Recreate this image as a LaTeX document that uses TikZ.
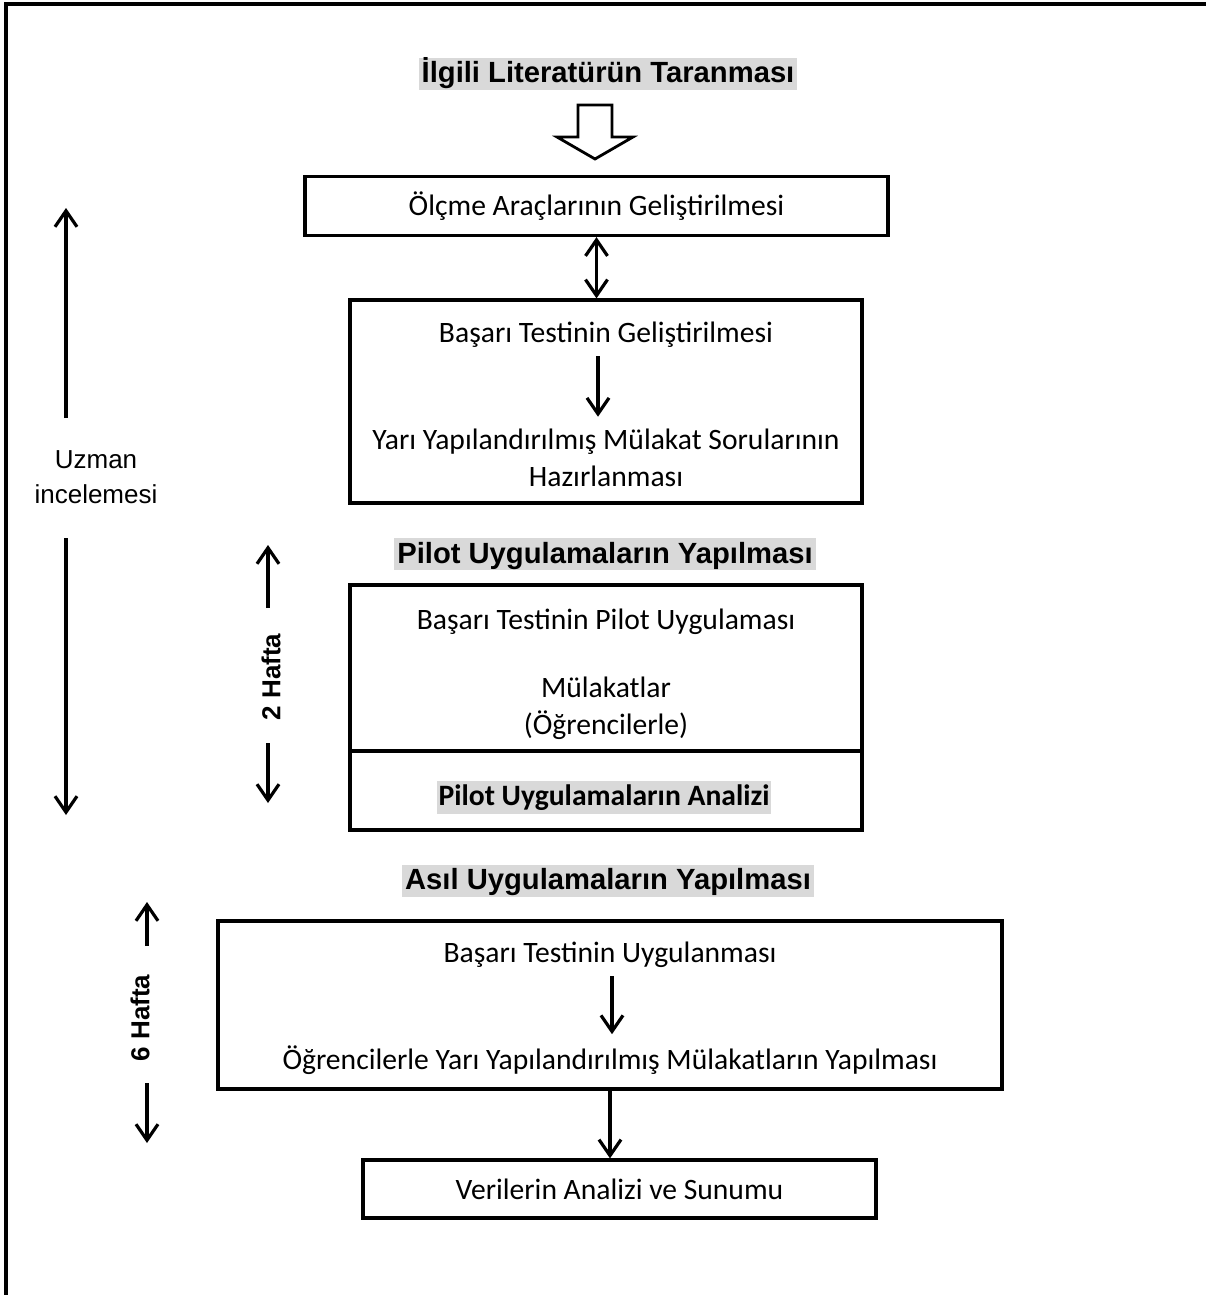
\documentclass[tikz,border=0pt]{standalone}
\usepackage{fontspec}
\setmainfont{Carlito}
\newfontfamily\arialf{Liberation Sans}
\usepackage{xcolor}
\usepackage{tikz}
\usetikzlibrary{arrows.meta, positioning, calc}
\definecolor{vurgu}{RGB}{217,217,217}
\tikzset{
  kutu/.style={rectangle, draw, line width=1.6pt, minimum width=256pt, align=center, font=\fontsize{14.8}{18.5}\selectfont, inner sep=0pt},
  yazi/.style={align=center, inner sep=0pt, font=\fontsize{14.8}{18.5}\selectfont},
  baslik/.style={fill=vurgu, inner xsep=1.5pt, inner ysep=0pt, text height=12.5pt, text depth=3.5pt, font=\arialf\bfseries\fontsize{14.6}{17}\selectfont},
  yan/.style={align=center, inner sep=0pt, font=\arialf\fontsize{13}{17.5}\selectfont},
  hafta/.style={inner sep=0pt, rotate=90, font=\arialf\bfseries\fontsize{13}{16}\selectfont},
  ok/.style={-{Straight Barb[length=8pt,width=11pt]}, line width=1.6pt},
  cift/.style={{Straight Barb[length=8pt,width=11pt]}-{Straight Barb[length=8pt,width=11pt]}, line width=1.6pt},
}
\begin{document}
\begin{tikzpicture}[x=0.5pt, y=-0.5pt]
  \useasboundingbox (0,0) rectangle (1206,1295);
  % Çerçeve (sadece üst ve sol kenar)
  \draw[line width=1.6pt] (6,1295) -- (6,4) -- (1206,4);
  % Literatür taraması
  \node[baslik] (lit) at (608,74) {İlgili Literatürün Taranması};
  \draw[line width=1.4pt, line join=miter] (578,105) -- (612,105) -- (612,137) -- (633,137) -- (595,159) -- (557,137) -- (578,137) -- cycle;
  % Ölçme araçları
  \node[kutu, minimum width=291.5pt, minimum height=29.5pt] (b1) at (596.5,206) {Ölçme Araçlarının Geliştirilmesi};
  \node[kutu, minimum height=101.5pt] (b2) at (606,401.5) {};
  \draw[cift] (b1.south) -- (b1.south |- b2.north);
  \node[yazi] (b2a) at (606,335) {Başarı Testinin Geliştirilmesi};
  \node[yazi] (b2b) at (606,458) {Yarı Yapılandırılmış Mülakat Sorularının\\Hazırlanması};
  \draw[ok, shorten <=4pt, shorten >=6pt] ([xshift=-4pt]b2a.south) -- ([xshift=-4pt]b2b.north);
  % Pilot uygulamalar
  \node[baslik] (pilot) at (605,554) {Pilot Uygulamaların Yapılması};
  \node[kutu, minimum height=83pt] (b3) at (606,668) {};
  \node[kutu, minimum height=39.5pt] (b3alt) at (606,790.5) {};
  \node[yazi] (b3a) at (606,622) {Başarı Testinin Pilot Uygulaması};
  \node[yazi] (b3b) at (606,708) {Mülakatlar\\(Öğrencilerle)};
  \node[fill=vurgu, inner xsep=1pt, inner ysep=0pt, text height=12.5pt, text depth=4pt, font=\bfseries\fontsize{14.8}{18}\selectfont] (analiz) at (604,797) {Pilot Uygulamaların Analizi};
  % Asıl uygulamalar
  \node[baslik] (asil) at (608,880.5) {Asıl Uygulamaların Yapılması};
  \node[kutu, minimum width=392pt, minimum height=84pt] (b4) at (610,1005) {};
  \node[yazi] (b4a) at (610,955) {Başarı Testinin Uygulanması};
  \node[yazi] (b4b) at (610,1060) {Öğrencilerle Yarı Yapılandırılmış Mülakatların Yapılması};
  \draw[ok, shorten <=4pt, shorten >=5.5pt] ([xshift=1pt]b4a.south) -- ([xshift=1pt]b4b.north);
  \node[kutu, minimum width=256.5pt, minimum height=29pt] (b5) at (619.5,1189) {Verilerin Analizi ve Sunumu};
  \draw[ok] (b4.south) -- (b4.south |- b5.north);
  % Uzman incelemesi
  \node[yan] (uzman) at (96,477) {Uzman\\incelemesi};
  \coordinate (uz1) at (66,418);
  \coordinate (uz2) at (66,208);
  \coordinate (uz3) at (66,538);
  \coordinate (uz4) at (66,815);
  \draw[ok] (uz1) -- (uz2);
  \draw[ok] (uz3) -- (uz4);
  % 2 hafta
  \node[hafta] (h2) at (271,677) {2 Hafta};
  \coordinate (h2a) at (268,608);
  \coordinate (h2b) at (268,545);
  \coordinate (h2c) at (268,743);
  \coordinate (h2d) at (268,803);
  \draw[ok] (h2a) -- (h2b);
  \draw[ok] (h2c) -- (h2d);
  % 6 hafta
  \node[hafta] (h6) at (140,1018) {6 Hafta};
  \coordinate (h6a) at (147,946);
  \coordinate (h6b) at (147,902);
  \coordinate (h6c) at (147,1083);
  \coordinate (h6d) at (147,1143);
  \draw[ok] (h6a) -- (h6b);
  \draw[ok] (h6c) -- (h6d);
\end{tikzpicture}
\end{document}
